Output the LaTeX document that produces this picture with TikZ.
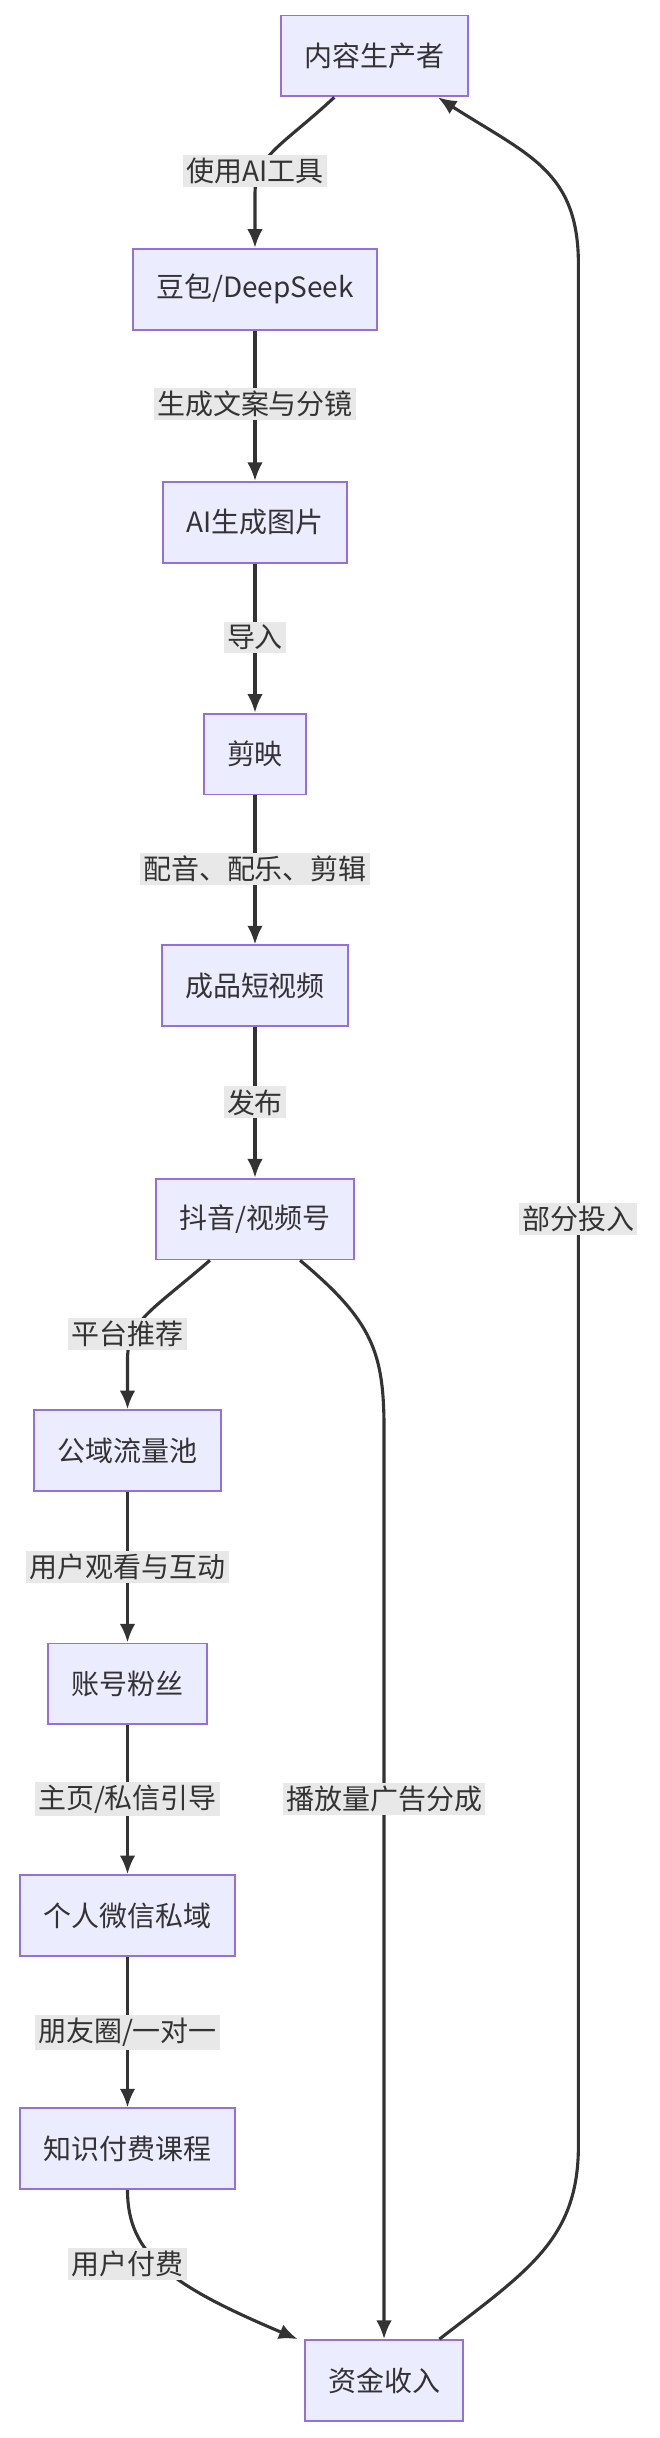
\documentclass[tikz,border=0pt]{standalone}
\usepackage{fontspec}
\setmainfont{Noto Sans CJK SC}
\usetikzlibrary{arrows.meta}
\definecolor{nf}{HTML}{ECECFF}
\definecolor{ns}{HTML}{9370DB}
\definecolor{ln}{HTML}{333333}
\definecolor{lb}{HTML}{E8E8E8}
\begin{document}
\begin{tikzpicture}[x=0.5pt,y=-0.5pt,
  box/.style={draw=ns,fill=nf,line width=0.6pt,minimum height=26pt,inner xsep=7.5pt,font=\fontsize{9}{11}\selectfont,text=ln},
  lab/.style={fill=lb,inner sep=1pt,font=\fontsize{9}{11}\selectfont,text=ln},
  e/.style={draw=ln,line width=1pt,-{Latex[length=6pt,width=5pt]}}]
\useasboundingbox (0,0) rectangle (424,1568);
\node[box] (a) at (241,36) {内容生产者};
\node[box] (b) at (164,186) {豆包/DeepSeek};
\node[box] (c) at (164,336) {AI生成图片};
\node[box] (d) at (164,485) {剪映};
\node[box] (f) at (164,634) {成品短视频};
\node[box] (g) at (164,784) {抖音/视频号};
\node[box] (h) at (82,933) {公域流量池};
\node[box] (i) at (82,1083) {账号粉丝};
\node[box] (j) at (82,1232) {个人微信私域};
\node[box] (k) at (82,1382) {知识付费课程};
\node[box] (m) at (247,1531) {资金收入};
\draw[e] (a.south) ++(-26,0) .. controls (180,95) and (164,100) .. (164,125) -- (b.north);
\draw[e] (b) -- (c);
\draw[e] (c) -- (d);
\draw[e] (d) -- (f);
\draw[e] (f) -- (g);
\draw[e] (g.south) ++(-29,0) .. controls (95,845) and (82,850) .. (82,875) -- (h.north);
\draw[e] (h) -- (i);
\draw[e] (i) -- (j);
\draw[e] (j) -- (k);
\draw[e] (g.south) ++(29,0) .. controls (240,850) and (247,870) .. (247,920) -- (m.north);
\draw[e] (k.south) .. controls (82,1450) and (110,1470) .. ([xshift=-2]m.north west);
\draw[e] ([xshift=-8]m.north east) .. controls (340,1460) and (372,1440) .. (372,1380) -- (372,170) .. controls (372,110) and (340,100) .. ([xshift=-10]a.south east);
\node[lab] (l1) at (164,110) {使用AI工具};
\node[lab] (l2) at (164,260) {生成文案与分镜};
\node[lab] (l3) at (164,410) {导入};
\node[lab] (l4) at (164,559) {配音、配乐、剪辑};
\node[lab] (l5) at (164,709) {发布};
\node[lab] (l6) at (82,858) {平台推荐};
\node[lab] (l7) at (82,1008) {用户观看与互动};
\node[lab] (l8) at (82,1157) {主页/私信引导};
\node[lab] (l9) at (82,1307) {朋友圈/一对一};
\node[lab] (l10) at (82,1456) {用户付费};
\node[lab] (l11) at (247,1157) {播放量广告分成};
\node[lab] (l12) at (372,784) {部分投入};
\end{tikzpicture}
\end{document}
